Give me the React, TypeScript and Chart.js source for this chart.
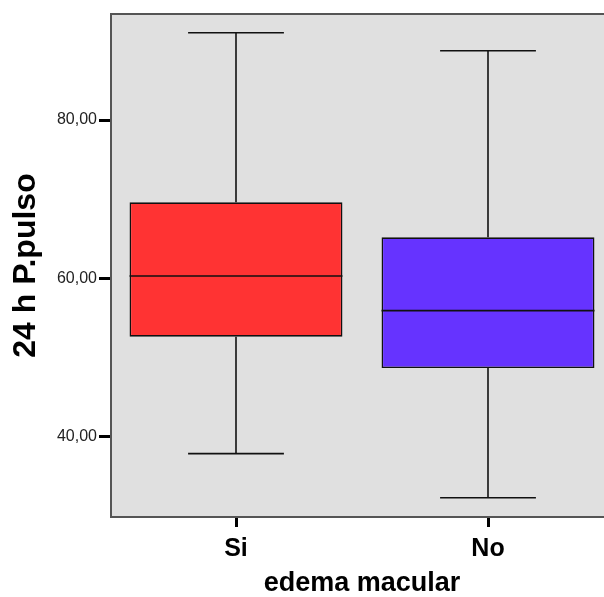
import { useEffect, useRef } from "react";
import { Chart, registerables } from "chart.js";

Chart.register(...registerables);

const categories = ["Si", "No"];
const q1Values = [52.59, 48.63];
const q3Values = [69.59, 65.16];
const medianValues = [60.27, 55.88];
const minValues = [37.79, 32.22];
const maxValues = [91.04, 88.77];
const yTickValues = [40, 60, 80];
const boxColors = ["#ff3333", "#6633ff"];

const FONT = "'Liberation Sans', Arial, Helvetica, sans-serif";

const boxPlugin = {
  id: "boxExtras",
  beforeDraw(chart: any) {
    const { ctx, chartArea } = chart;
    ctx.save();
    ctx.fillStyle = "#e0e0e0";
    ctx.fillRect(chartArea.left, chartArea.top, chartArea.right - chartArea.left, chartArea.bottom - chartArea.top);
    ctx.restore();
  },
  afterDatasetsDraw(chart: any) {
    const { ctx } = chart;
    const y = chart.scales.y;
    const meta = chart.getDatasetMeta(0);
    ctx.save();
    ctx.strokeStyle = "#111";
    ctx.lineWidth = 1.6;
    const line = (x1: number, y1: number, x2: number, y2: number) => {
      ctx.beginPath();
      ctx.moveTo(x1, y1);
      ctx.lineTo(x2, y2);
      ctx.stroke();
    };
    meta.data.forEach((bar: any, i: number) => {
      const x = bar.x;
      const w = bar.width;
      const capHalf = w * 0.225;
      const yMax = y.getPixelForValue(maxValues[i]);
      const yMin = y.getPixelForValue(minValues[i]);
      const yQ3 = y.getPixelForValue(q3Values[i]);
      const yQ1 = y.getPixelForValue(q1Values[i]);
      const yMed = y.getPixelForValue(medianValues[i]);
      line(x, yQ3, x, yMax);
      line(x - capHalf, yMax, x + capHalf, yMax);
      line(x, yQ1, x, yMin);
      line(x - capHalf, yMin, x + capHalf, yMin);
      line(x - w / 2, yMed, x + w / 2, yMed);
    });
    ctx.restore();
  },
  afterDraw(chart: any) {
    const { ctx, chartArea } = chart;
    ctx.save();
    ctx.strokeStyle = "#555";
    ctx.lineWidth = 2;
    ctx.beginPath();
    ctx.moveTo(chartArea.right, chartArea.top + 1);
    ctx.lineTo(chartArea.left + 1, chartArea.top + 1);
    ctx.lineTo(chartArea.left + 1, chartArea.bottom - 1);
    ctx.lineTo(chartArea.right, chartArea.bottom - 1);
    ctx.stroke();
    ctx.restore();
  },
};

export default function App() {
  const canvasRef = useRef<HTMLCanvasElement | null>(null);

  useEffect(() => {
    if (!canvasRef.current) return;
    const chart = new Chart(canvasRef.current, {
      type: "bar",
      data: {
        labels: categories,
        datasets: [
          {
            data: q1Values.map((v, i) => [v, q3Values[i]]),
            backgroundColor: boxColors,
            borderColor: "#111",
            borderWidth: 1.6,
            borderSkipped: false,
            barPercentage: 0.845,
            categoryPercentage: 1,
          },
        ],
      },
      options: {
        animation: false,
        responsive: false,
        devicePixelRatio: 1,
        layout: { padding: { left: 0, top: 13, right: 0, bottom: 0 } },
        plugins: {
          legend: { display: false },
          tooltip: { enabled: false },
          title: { display: false },
        },
        scales: {
          x: {
            type: "category",
            offset: true,
            border: { display: false },
            grid: {
              display: true,
              offset: false,
              drawOnChartArea: false,
              drawTicks: true,
              tickLength: 9,
              tickWidth: 3,
              tickColor: "#000",
            },
            ticks: {
              color: "#000",
              padding: 7,
              font: { family: FONT, size: 25, weight: "bold" },
            },
            title: {
              display: true,
              text: "edema macular",
              color: "#000",
              font: { family: FONT, size: 27, weight: "bold", lineHeight: 1 },
              padding: { top: 1.5, bottom: 0 },
            },
            afterFit(scale: any) {
              scale.height = 79;
            },
          },
          y: {
            type: "linear",
            min: 29.65,
            max: 93.54,
            border: { display: false },
            grid: {
              display: true,
              drawOnChartArea: false,
              drawTicks: true,
              tickLength: 11,
              tickWidth: 3,
              tickColor: "#000",
            },
            afterBuildTicks(scale: any) {
              scale.ticks = yTickValues.map((v) => ({ value: v }));
            },
            ticks: {
              color: "#222",
              padding: 2,
              font: { family: FONT, size: 16 },
              callback: (v: any) => Number(v).toFixed(2).replace(".", ","),
            },
            title: {
              display: true,
              text: "24 h P.pulso",
              color: "#000",
              font: { family: FONT, size: 32, weight: "bold", lineHeight: 1 },
              padding: { top: 10, bottom: 0 },
            },
            afterFit(scale: any) {
              scale.width = 110;
            },
          },
        },
      },
      plugins: [boxPlugin],
    });
    return () => chart.destroy();
  }, []);

  return (
    <div
      style={{
        position: "absolute",
        left: 0,
        top: 0,
        width: 604,
        height: 597,
        overflow: "hidden",
        background: "#fff",
      }}
    >
      <canvas ref={canvasRef} width={614} height={597} style={{ display: "block", width: 614, height: 597 }} />
    </div>
  );
}
